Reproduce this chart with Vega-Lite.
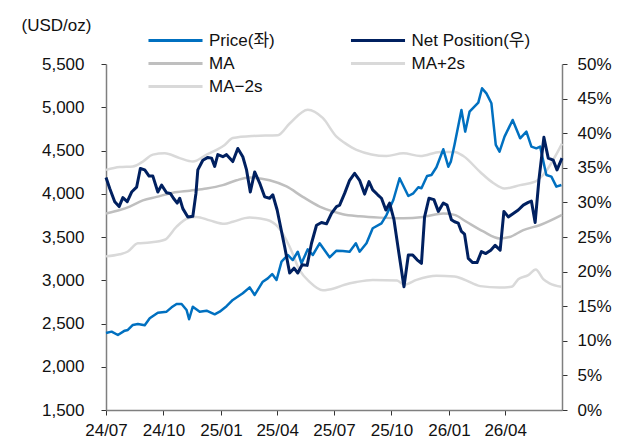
{
  "$schema": "https://vega.github.io/schema/vega-lite/v6.json",
  "width": 456,
  "height": 346,
  "autosize": {"type": "none"},
  "padding": {"left": 106, "top": 64, "right": 60, "bottom": 33},
  "background": "white",
  "config": {
    "font": "Liberation Sans, Arial, Noto Sans CJK KR, sans-serif",
    "view": {"stroke": null},
    "axis": {
      "grid": false,
      "labelFontSize": 17,
      "labelColor": "#111111",
      "domainColor": "#7f7f7f",
      "domainWidth": 1.5,
      "tickColor": "#333333",
      "tickSize": 5,
      "tickWidth": 1,
      "titleFontWeight": "normal"
    },
    "legend": {
      "orient": "none",
      "legendX": 56.5,
      "legendY": -36.5,
      "columns": 2,
      "symbolType": "M-2.35,0H2.35",
      "symbolSize": 529,
      "symbolStrokeWidth": 3,
      "labelFontSize": 17,
      "labelColor": "#111111",
      "labelOffset": 20.5,
      "rowPadding": 2,
      "columnPadding": 68.5,
      "title": null,
      "labelLimit": 300
    }
  },
  "datasets": {
    "price": [
      {"t": "2024-07-01", "v": 2390}, {"t": "2024-07-10", "v": 2406}, {"t": "2024-07-20", "v": 2367},
      {"t": "2024-07-31", "v": 2417}, {"t": "2024-08-05", "v": 2425}, {"t": "2024-08-13", "v": 2483},
      {"t": "2024-08-21", "v": 2494}, {"t": "2024-09-01", "v": 2480}, {"t": "2024-09-09", "v": 2560},
      {"t": "2024-09-22", "v": 2625}, {"t": "2024-10-06", "v": 2637}, {"t": "2024-10-14", "v": 2687},
      {"t": "2024-10-22", "v": 2726}, {"t": "2024-10-30", "v": 2726}, {"t": "2024-11-07", "v": 2656},
      {"t": "2024-11-11", "v": 2549}, {"t": "2024-11-17", "v": 2694}, {"t": "2024-11-28", "v": 2637},
      {"t": "2024-12-09", "v": 2648}, {"t": "2024-12-22", "v": 2606}, {"t": "2024-12-30", "v": 2637},
      {"t": "2025-01-10", "v": 2700}, {"t": "2025-01-20", "v": 2772}, {"t": "2025-02-05", "v": 2849},
      {"t": "2025-02-16", "v": 2918}, {"t": "2025-02-24", "v": 2830}, {"t": "2025-03-09", "v": 2983},
      {"t": "2025-03-17", "v": 3022}, {"t": "2025-03-24", "v": 3072}, {"t": "2025-03-31", "v": 3003},
      {"t": "2025-04-08", "v": 3215}, {"t": "2025-04-18", "v": 3292}, {"t": "2025-04-26", "v": 3234},
      {"t": "2025-05-04", "v": 3330}, {"t": "2025-05-10", "v": 3196}, {"t": "2025-05-20", "v": 3358},
      {"t": "2025-05-28", "v": 3292}, {"t": "2025-06-08", "v": 3427}, {"t": "2025-06-24", "v": 3265},
      {"t": "2025-07-05", "v": 3342}, {"t": "2025-07-15", "v": 3338}, {"t": "2025-07-26", "v": 3330},
      {"t": "2025-08-05", "v": 3427}, {"t": "2025-08-11", "v": 3330}, {"t": "2025-08-22", "v": 3427},
      {"t": "2025-09-01", "v": 3601}, {"t": "2025-09-15", "v": 3658}, {"t": "2025-09-23", "v": 3754},
      {"t": "2025-10-04", "v": 3928}, {"t": "2025-10-14", "v": 4179}, {"t": "2025-10-28", "v": 3974},
      {"t": "2025-11-05", "v": 4005}, {"t": "2025-11-13", "v": 4075}, {"t": "2025-11-18", "v": 4063},
      {"t": "2025-11-27", "v": 4205}, {"t": "2025-12-04", "v": 4217}, {"t": "2025-12-12", "v": 4306},
      {"t": "2025-12-23", "v": 4514}, {"t": "2025-12-31", "v": 4313}, {"t": "2026-01-04", "v": 4371},
      {"t": "2026-01-10", "v": 4570}, {"t": "2026-01-21", "v": 4968}, {"t": "2026-01-27", "v": 4718},
      {"t": "2026-02-03", "v": 4949}, {"t": "2026-02-17", "v": 5053}, {"t": "2026-02-23", "v": 5219},
      {"t": "2026-03-02", "v": 5161}, {"t": "2026-03-10", "v": 5046}, {"t": "2026-03-17", "v": 4564},
      {"t": "2026-03-23", "v": 4486}, {"t": "2026-03-31", "v": 4660}, {"t": "2026-04-13", "v": 4853},
      {"t": "2026-04-25", "v": 4641}, {"t": "2026-05-05", "v": 4718}, {"t": "2026-05-13", "v": 4545},
      {"t": "2026-05-21", "v": 4525}, {"t": "2026-05-27", "v": 4545}, {"t": "2026-06-03", "v": 4313},
      {"t": "2026-06-06", "v": 4217}, {"t": "2026-06-14", "v": 4198}, {"t": "2026-06-22", "v": 4082},
      {"t": "2026-06-30", "v": 4101}
    ],
    "net": [
      {"t": "2024-07-01", "v": 33.6}, {"t": "2024-07-07", "v": 32.0}, {"t": "2024-07-15", "v": 30.1},
      {"t": "2024-07-22", "v": 29.4}, {"t": "2024-07-28", "v": 30.7}, {"t": "2024-08-04", "v": 30.1},
      {"t": "2024-08-11", "v": 31.5}, {"t": "2024-08-19", "v": 32.2}, {"t": "2024-08-25", "v": 34.9},
      {"t": "2024-09-01", "v": 34.7}, {"t": "2024-09-08", "v": 33.8}, {"t": "2024-09-14", "v": 33.8},
      {"t": "2024-09-22", "v": 31.5}, {"t": "2024-09-28", "v": 32.5}, {"t": "2024-10-06", "v": 31.4},
      {"t": "2024-10-12", "v": 31.3}, {"t": "2024-10-17", "v": 30.6}, {"t": "2024-10-23", "v": 29.9},
      {"t": "2024-10-27", "v": 30.6}, {"t": "2024-11-01", "v": 29.1}, {"t": "2024-11-09", "v": 27.9},
      {"t": "2024-11-17", "v": 28.0}, {"t": "2024-11-22", "v": 31.3}, {"t": "2024-11-25", "v": 34.7},
      {"t": "2024-12-03", "v": 36.1}, {"t": "2024-12-11", "v": 36.5}, {"t": "2024-12-17", "v": 36.4},
      {"t": "2024-12-22", "v": 35.2}, {"t": "2024-12-27", "v": 36.9}, {"t": "2025-01-04", "v": 36.6},
      {"t": "2025-01-10", "v": 36.9}, {"t": "2025-01-20", "v": 35.9}, {"t": "2025-01-28", "v": 37.8},
      {"t": "2025-02-05", "v": 36.6}, {"t": "2025-02-11", "v": 34.7}, {"t": "2025-02-17", "v": 31.5},
      {"t": "2025-02-24", "v": 34.4}, {"t": "2025-03-04", "v": 32.8}, {"t": "2025-03-12", "v": 30.8},
      {"t": "2025-03-20", "v": 30.6}, {"t": "2025-03-25", "v": 31.1}, {"t": "2025-04-01", "v": 28.9},
      {"t": "2025-04-08", "v": 25.8}, {"t": "2025-04-13", "v": 23.6}, {"t": "2025-04-21", "v": 19.8},
      {"t": "2025-04-28", "v": 20.5}, {"t": "2025-05-04", "v": 19.8}, {"t": "2025-05-11", "v": 21.0},
      {"t": "2025-05-19", "v": 20.9}, {"t": "2025-05-26", "v": 24.1}, {"t": "2025-06-03", "v": 26.7},
      {"t": "2025-06-11", "v": 27.1}, {"t": "2025-06-19", "v": 26.9}, {"t": "2025-06-27", "v": 28.4},
      {"t": "2025-07-05", "v": 29.4}, {"t": "2025-07-10", "v": 29.6}, {"t": "2025-07-18", "v": 31.3},
      {"t": "2025-07-26", "v": 33.2}, {"t": "2025-08-03", "v": 34.2}, {"t": "2025-08-11", "v": 33.2},
      {"t": "2025-08-19", "v": 31.2}, {"t": "2025-08-26", "v": 33.0}, {"t": "2025-09-01", "v": 31.8},
      {"t": "2025-09-09", "v": 31.1}, {"t": "2025-09-15", "v": 30.6}, {"t": "2025-09-22", "v": 28.9},
      {"t": "2025-09-28", "v": 29.9}, {"t": "2025-10-05", "v": 27.5}, {"t": "2025-10-13", "v": 22.6},
      {"t": "2025-10-21", "v": 17.8}, {"t": "2025-10-28", "v": 22.4}, {"t": "2025-11-04", "v": 22.4},
      {"t": "2025-11-11", "v": 21.7}, {"t": "2025-11-18", "v": 21.2}, {"t": "2025-11-23", "v": 27.9},
      {"t": "2025-11-30", "v": 30.6}, {"t": "2025-12-08", "v": 30.4}, {"t": "2025-12-15", "v": 28.7},
      {"t": "2025-12-23", "v": 29.9}, {"t": "2025-12-29", "v": 29.6}, {"t": "2026-01-05", "v": 27.5},
      {"t": "2026-01-10", "v": 27.2}, {"t": "2026-01-16", "v": 27.0}, {"t": "2026-01-21", "v": 25.8},
      {"t": "2026-01-26", "v": 25.4}, {"t": "2026-02-01", "v": 21.9}, {"t": "2026-02-08", "v": 21.3},
      {"t": "2026-02-15", "v": 21.3}, {"t": "2026-02-22", "v": 22.9}, {"t": "2026-03-01", "v": 22.6},
      {"t": "2026-03-09", "v": 23.1}, {"t": "2026-03-16", "v": 23.8}, {"t": "2026-03-24", "v": 23.1},
      {"t": "2026-03-30", "v": 28.7}, {"t": "2026-04-06", "v": 27.9}, {"t": "2026-04-14", "v": 28.4},
      {"t": "2026-04-22", "v": 28.9}, {"t": "2026-04-30", "v": 29.6}, {"t": "2026-05-08", "v": 30.0},
      {"t": "2026-05-13", "v": 30.2}, {"t": "2026-05-19", "v": 27.1}, {"t": "2026-05-25", "v": 33.2},
      {"t": "2026-06-02", "v": 39.4}, {"t": "2026-06-09", "v": 36.4}, {"t": "2026-06-17", "v": 36.1},
      {"t": "2026-06-23", "v": 34.7}, {"t": "2026-07-01", "v": 36.4}
    ],
    "bands": [
      {"s": "MA", "t": "2024-07-01", "v": 28.4}, {"s": "MA", "t": "2024-07-23", "v": 28.9},
      {"s": "MA", "t": "2024-08-08", "v": 29.4}, {"s": "MA", "t": "2024-08-29", "v": 30.3},
      {"s": "MA", "t": "2024-09-20", "v": 30.8}, {"s": "MA", "t": "2024-10-16", "v": 31.4},
      {"s": "MA", "t": "2024-11-12", "v": 31.7}, {"s": "MA", "t": "2024-12-09", "v": 32.0},
      {"s": "MA", "t": "2025-01-04", "v": 32.5}, {"s": "MA", "t": "2025-01-26", "v": 33.2},
      {"s": "MA", "t": "2025-02-16", "v": 33.6}, {"s": "MA", "t": "2025-03-20", "v": 33.2},
      {"s": "MA", "t": "2025-04-16", "v": 32.3}, {"s": "MA", "t": "2025-05-12", "v": 30.8},
      {"s": "MA", "t": "2025-06-08", "v": 29.4}, {"s": "MA", "t": "2025-06-29", "v": 28.7},
      {"s": "MA", "t": "2025-07-15", "v": 28.3}, {"s": "MA", "t": "2025-08-11", "v": 28.0},
      {"s": "MA", "t": "2025-09-12", "v": 27.8}, {"s": "MA", "t": "2025-10-20", "v": 27.7},
      {"s": "MA", "t": "2025-11-21", "v": 27.9}, {"s": "MA", "t": "2025-12-23", "v": 28.4},
      {"s": "MA", "t": "2026-01-10", "v": 28.2}, {"s": "MA", "t": "2026-01-29", "v": 27.2},
      {"s": "MA", "t": "2026-02-25", "v": 25.8}, {"s": "MA", "t": "2026-03-23", "v": 24.8},
      {"s": "MA", "t": "2026-04-08", "v": 25.0}, {"s": "MA", "t": "2026-04-30", "v": 26.0},
      {"s": "MA", "t": "2026-05-26", "v": 26.7}, {"s": "MA", "t": "2026-07-01", "v": 28.2},

      {"s": "MA+2s", "t": "2024-07-01", "v": 34.7}, {"s": "MA+2s", "t": "2024-07-23", "v": 35.1},
      {"s": "MA+2s", "t": "2024-08-13", "v": 35.2}, {"s": "MA+2s", "t": "2024-08-29", "v": 35.9},
      {"s": "MA+2s", "t": "2024-09-14", "v": 36.9}, {"s": "MA+2s", "t": "2024-10-03", "v": 37.1},
      {"s": "MA+2s", "t": "2024-10-27", "v": 36.4}, {"s": "MA+2s", "t": "2024-11-17", "v": 35.9},
      {"s": "MA+2s", "t": "2024-12-09", "v": 36.9}, {"s": "MA+2s", "t": "2024-12-25", "v": 37.6},
      {"s": "MA+2s", "t": "2025-01-07", "v": 38.3}, {"s": "MA+2s", "t": "2025-01-20", "v": 39.3},
      {"s": "MA+2s", "t": "2025-02-21", "v": 39.6}, {"s": "MA+2s", "t": "2025-04-02", "v": 39.7},
      {"s": "MA+2s", "t": "2025-04-21", "v": 41.4}, {"s": "MA+2s", "t": "2025-05-20", "v": 43.4},
      {"s": "MA+2s", "t": "2025-06-13", "v": 42.2}, {"s": "MA+2s", "t": "2025-07-05", "v": 39.5},
      {"s": "MA+2s", "t": "2025-07-18", "v": 38.6}, {"s": "MA+2s", "t": "2025-08-06", "v": 37.6},
      {"s": "MA+2s", "t": "2025-09-23", "v": 36.7}, {"s": "MA+2s", "t": "2025-10-20", "v": 37.1},
      {"s": "MA+2s", "t": "2025-11-16", "v": 36.7}, {"s": "MA+2s", "t": "2025-12-18", "v": 37.3},
      {"s": "MA+2s", "t": "2026-01-10", "v": 37.3}, {"s": "MA+2s", "t": "2026-01-24", "v": 36.7},
      {"s": "MA+2s", "t": "2026-02-20", "v": 34.4}, {"s": "MA+2s", "t": "2026-03-13", "v": 32.8},
      {"s": "MA+2s", "t": "2026-03-31", "v": 32.0}, {"s": "MA+2s", "t": "2026-04-25", "v": 32.5},
      {"s": "MA+2s", "t": "2026-05-19", "v": 33.0}, {"s": "MA+2s", "t": "2026-06-01", "v": 34.0},
      {"s": "MA+2s", "t": "2026-07-01", "v": 38.5},

      {"s": "MA-2s", "t": "2024-07-01", "v": 22.2}, {"s": "MA-2s", "t": "2024-07-23", "v": 22.5},
      {"s": "MA-2s", "t": "2024-08-05", "v": 22.9}, {"s": "MA-2s", "t": "2024-08-21", "v": 24.1},
      {"s": "MA-2s", "t": "2024-09-09", "v": 24.2}, {"s": "MA-2s", "t": "2024-10-03", "v": 24.6},
      {"s": "MA-2s", "t": "2024-10-22", "v": 26.5}, {"s": "MA-2s", "t": "2024-11-09", "v": 27.7},
      {"s": "MA-2s", "t": "2024-11-23", "v": 27.9}, {"s": "MA-2s", "t": "2024-12-14", "v": 27.4},
      {"s": "MA-2s", "t": "2025-01-07", "v": 26.9}, {"s": "MA-2s", "t": "2025-01-20", "v": 27.2},
      {"s": "MA-2s", "t": "2025-02-16", "v": 27.8}, {"s": "MA-2s", "t": "2025-03-15", "v": 27.5},
      {"s": "MA-2s", "t": "2025-04-02", "v": 26.5}, {"s": "MA-2s", "t": "2025-04-21", "v": 23.6},
      {"s": "MA-2s", "t": "2025-05-07", "v": 20.2}, {"s": "MA-2s", "t": "2025-05-23", "v": 18.5},
      {"s": "MA-2s", "t": "2025-06-13", "v": 17.3}, {"s": "MA-2s", "t": "2025-07-02", "v": 17.6},
      {"s": "MA-2s", "t": "2025-07-18", "v": 18.1}, {"s": "MA-2s", "t": "2025-08-06", "v": 18.5},
      {"s": "MA-2s", "t": "2025-09-01", "v": 18.8}, {"s": "MA-2s", "t": "2025-10-10", "v": 18.7},
      {"s": "MA-2s", "t": "2025-10-21", "v": 18.1}, {"s": "MA-2s", "t": "2025-11-10", "v": 18.8},
      {"s": "MA-2s", "t": "2025-12-12", "v": 19.4}, {"s": "MA-2s", "t": "2026-01-10", "v": 19.3},
      {"s": "MA-2s", "t": "2026-01-24", "v": 18.9}, {"s": "MA-2s", "t": "2026-02-20", "v": 17.9},
      {"s": "MA-2s", "t": "2026-03-23", "v": 17.7}, {"s": "MA-2s", "t": "2026-04-11", "v": 17.8},
      {"s": "MA-2s", "t": "2026-04-22", "v": 18.9}, {"s": "MA-2s", "t": "2026-05-08", "v": 19.5},
      {"s": "MA-2s", "t": "2026-05-20", "v": 20.3}, {"s": "MA-2s", "t": "2026-06-01", "v": 18.9},
      {"s": "MA-2s", "t": "2026-06-11", "v": 18.3}, {"s": "MA-2s", "t": "2026-06-30", "v": 17.8}
    ]
  },
  "encoding": {
    "x": {
      "field": "t", "type": "temporal",
      "scale": {"type": "utc", "domain": [{"year": 2024, "month": 7, "date": 1, "utc": true}, {"year": 2026, "month": 7, "date": 1, "utc": true}]},
      "axis": {
        "title": null, "labelExpr": "utcFormat(datum.value, '%y/%m')", "labelPadding": 7, "labelFlush": false,
        "values": [
          {"year": 2024, "month": 7, "date": 1, "utc": true}, {"year": 2024, "month": 10, "date": 1, "utc": true},
          {"year": 2025, "month": 1, "date": 1, "utc": true}, {"year": 2025, "month": 4, "date": 1, "utc": true},
          {"year": 2025, "month": 7, "date": 1, "utc": true}, {"year": 2025, "month": 10, "date": 1, "utc": true},
          {"year": 2026, "month": 1, "date": 1, "utc": true}, {"year": 2026, "month": 4, "date": 1, "utc": true}
        ]
      }
    }
  },
  "layer": [
    {
      "data": {"name": "bands"},
      "mark": {"type": "line", "strokeWidth": 2.5, "strokeJoin": "round", "interpolate": "monotone"},
      "encoding": {
        "y": {
          "field": "v", "type": "quantitative",
          "scale": {"domain": [0, 50], "nice": false, "zero": false},
          "axis": {"orient": "right", "title": null, "values": [0, 5, 10, 15, 20, 25, 30, 35, 40, 45, 50], "labelExpr": "datum.value + '%'", "labelPadding": 10}
        },
        "color": {
          "field": "s", "type": "nominal",
          "scale": {"domain": ["Price(좌)", "MA", "MA-2s", "Net Position(우)", "MA+2s"], "range": ["#0070C0", "#BFBFBF", "#D9D9D9", "#002060", "#D9D9D9"]},
          "legend": {"labelExpr": "datum.label == 'MA-2s' ? 'MA\u22122s' : datum.label"}
        }
      }
    },
    {
      "data": {"name": "price"},
      "mark": {"type": "line", "strokeWidth": 2.5, "strokeJoin": "round"},
      "encoding": {
        "y": {
          "field": "v", "type": "quantitative",
          "scale": {"domain": [1500, 5500], "nice": false, "zero": false},
          "axis": {
            "orient": "left", "format": ",d", "values": [1500, 2000, 2500, 3000, 3500, 4000, 4500, 5000, 5500],
            "labelPadding": 17, "title": "(USD/oz)", "titleAngle": 0, "titleAlign": "center", "titleBaseline": "middle",
            "titleX": -50, "titleY": -39, "titleFontSize": 17, "titleColor": "#111111"
          }
        },
        "color": {"datum": "Price(좌)", "type": "nominal"}
      }
    },
    {
      "data": {"name": "net"},
      "mark": {"type": "line", "strokeWidth": 3, "strokeJoin": "round"},
      "encoding": {
        "y": {
          "field": "v", "type": "quantitative",
          "scale": {"domain": [0, 50], "nice": false, "zero": false},
          "axis": null
        },
        "color": {"datum": "Net Position(우)", "type": "nominal"}
      }
    }
  ],
  "resolve": {"scale": {"y": "independent"}}
}
